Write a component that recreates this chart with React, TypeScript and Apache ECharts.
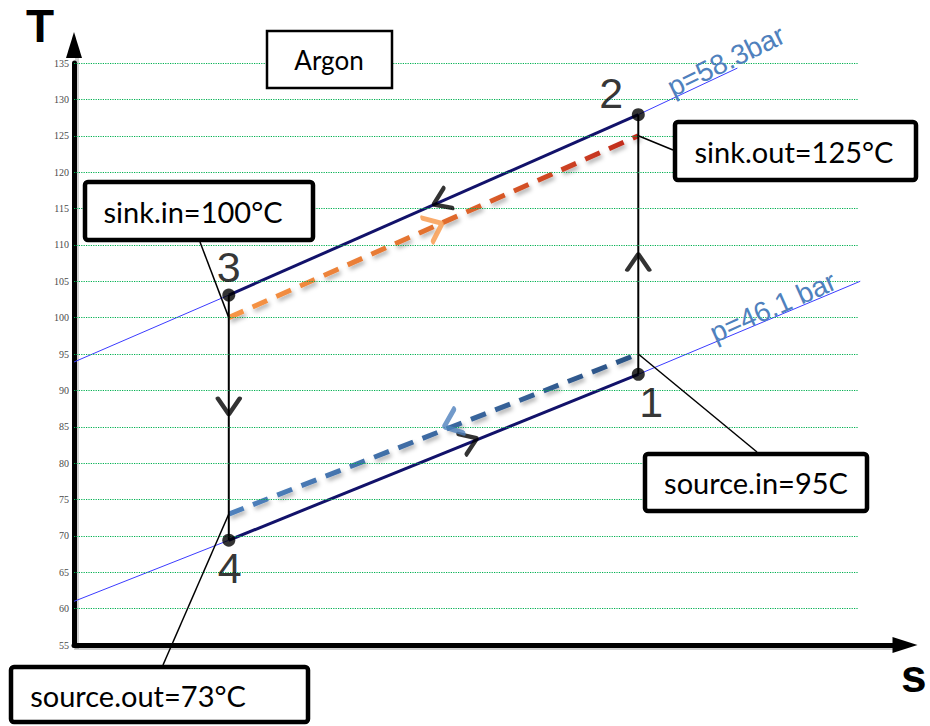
import React, { useEffect, useRef } from "react";
import * as echarts from "echarts";

// ---- axes ----
const T_AXIS_MIN = 55;
const T_AXIS_MAX = 135;
const T_AXIS_STEP = 5;
const S_AXIS_MIN = 0;
const S_AXIS_MAX = 100;
const gridTemps = [60, 65, 70, 75, 80, 85, 90, 95, 100, 105, 110, 115, 120, 125, 130, 135];
const gridEndS = 95.7;

// ---- cycle states (entropy in arbitrary units, T in °C) ----
const stateLabels = ["1", "2", "3", "4"];
const stateS = [68.9, 68.9, 18.9, 18.9];
const stateT = [92.2, 127.9, 103.1, 69.4];
const stateLabelOffsets = [[13, 28], [-27, -22], [0, -28], [1, 28]];

// process segments by state index
const diagonalSegments = [[3, 0], [1, 2]];
const verticalSegments = [[0, 1], [2, 3]];

// ---- isobars ----
const isobarHighS = [0, 18.9, 68.9, 81.0];
const isobarHighT = [93.9, 103.1, 127.9, 134.3];
const isobarLowS = [0, 18.9, 68.9, 96.0];
const isobarLowT = [61.0, 69.4, 92.2, 105.0];

// ---- heat-exchange streams ----
const sinkS = [18.9, 68.9];
const sinkT = [100, 125];
const sourceS = [18.9, 68.9];
const sourceT = [73, 95];

// ---- direction arrows ----
const arrowS = [68.9, 18.9, 44.8, 48.3, 44.05, 46.1];
const arrowT = [107.65, 87.8, 116.0, 83.0, 112.5, 85.4];
const arrowDir = [90, -90, 203.75, 22, 24, 201.4];
const arrowKind = ["cycle", "cycle", "cycle", "cycle", "sink", "source"];

// ---- callouts ----
const calloutTexts = ["sink.in=100°C", "sink.out=125°C", "source.in=95C", "source.out=73°C"];
const calloutS = [18.9, 68.9, 68.9, 18.9];
const calloutT = [100, 125, 95, 73];
const calloutLayout = [
  { x: 83, y: 180, w: 232, h: 62, tx: 193, ty: 211, ax: 200, ay: 242 },
  { x: 673, y: 120, w: 245, h: 62, tx: 794, ty: 151, ax: 673, ay: 150 },
  { x: 643, y: 452, w: 226, h: 61, tx: 756, ty: 482, ax: 757, ay: 452 },
  { x: 9, y: 665, w: 301, h: 59, tx: 138, ty: 695, ax: 163, ay: 665 },
];

const FONT_BOX = "Lato";
const FONT_SANS = "'Liberation Sans', Arial, sans-serif";

export default function App() {
  const ref = useRef<HTMLDivElement>(null);

  useEffect(() => {
    const el = ref.current!;
    const chart = echarts.init(el, null, { renderer: "svg" });

    const pair = (s: number[], t: number[]) => s.map((v, i) => [v, t[i]]);

    const series: any[] = [];

    // grid lines (green dotted), stop before the s-axis arrow
    series.push({
      type: "line",
      z: 1,
      data: [[S_AXIS_MIN, T_AXIS_MIN]],
      showSymbol: false,
      symbol: "none",
      lineStyle: { opacity: 0 },
      silent: true,
      markLine: {
        silent: true,
        precision: 4,
        symbol: ["none", "none"],
        label: { show: false },
        lineStyle: { color: "#00B050", type: "dotted", width: 1.2, opacity: 1 },
        data: gridTemps.map((t) => [{ coord: [S_AXIS_MIN, t] }, { coord: [gridEndS, t] }]),
      },
    });

    // isobars
    [pair(isobarHighS, isobarHighT), pair(isobarLowS, isobarLowT)].forEach((d) =>
      series.push({
        type: "line",
        z: 2,
        data: d,
        symbol: "none",
        silent: true,
        lineStyle: { color: "#3B3BFF", width: 1 },
      })
    );

    // heat exchanger streams (dashed)
    series.push({
      type: "line",
      z: 3,
      data: pair(sinkS, sinkT),
      symbol: "none",
      silent: true,
      lineStyle: {
        width: 5,
        type: [16, 10],
        cap: "butt",
        color: new echarts.graphic.LinearGradient(0, 0, 1, 0, [
          { offset: 0, color: "#F79646" },
          { offset: 0.5, color: "#E2702E" },
          { offset: 1, color: "#C0281C" },
        ]),
        shadowColor: "rgba(0,0,0,0.3)",
        shadowBlur: 4,
        shadowOffsetX: 2,
        shadowOffsetY: 3,
      },
    });
    series.push({
      type: "line",
      z: 3,
      data: pair(sourceS, sourceT),
      symbol: "none",
      silent: true,
      lineStyle: {
        width: 5,
        type: [16, 10],
        cap: "butt",
        color: new echarts.graphic.LinearGradient(0, 0, 1, 0, [
          { offset: 0, color: "#4F81BD" },
          { offset: 1, color: "#2A5285" },
        ]),
        shadowColor: "rgba(0,0,0,0.3)",
        shadowBlur: 4,
        shadowOffsetX: 2,
        shadowOffsetY: 3,
      },
    });

    // cycle: diagonal processes (navy) and vertical processes (black)
    diagonalSegments.forEach(([a, b]) =>
      series.push({
        type: "line",
        z: 4,
        data: [
          [stateS[a], stateT[a]],
          [stateS[b], stateT[b]],
        ],
        symbol: "none",
        silent: true,
        lineStyle: { color: "#12126A", width: 3 },
      })
    );
    verticalSegments.forEach(([a, b]) =>
      series.push({
        type: "line",
        z: 4,
        data: [
          [stateS[a], stateT[a]],
          [stateS[b], stateT[b]],
        ],
        symbol: "none",
        silent: true,
        lineStyle: { color: "#000", width: 2 },
      })
    );

    // direction arrows (open chevrons)
    const arrowStyle: Record<string, any> = {
      cycle: { color: "#000", width: 4, size: [16, 22] },
      sink: { color: "#F79646", width: 4.5, size: [16, 26] },
      source: { color: "#4F81BD", width: 4.5, size: [16, 26] },
    };
    series.push({
      type: "scatter",
      z: 5,
      silent: true,
      symbol: "path://M0,0L10,10L0,20",
      data: arrowS.map((s, i) => {
        const st = arrowStyle[arrowKind[i]];
        return {
          value: [s, arrowT[i]],
          symbolRotate: arrowDir[i],
          symbolSize: st.size,
          itemStyle: {
            color: "rgba(0,0,0,0)",
            borderColor: st.color,
            borderWidth: st.width,
            borderCap: "round",
            borderJoin: "round",
          },
        };
      }),
    });

    // state points
    series.push({
      type: "scatter",
      z: 6,
      silent: true,
      symbol: "circle",
      symbolSize: 13,
      itemStyle: { color: "#000" },
      data: stateS.map((s, i) => ({
        value: [s, stateT[i]],
        name: stateLabels[i],
        label: {
          show: true,
          position: "inside",
          offset: stateLabelOffsets[i],
          formatter: stateLabels[i],
          fontFamily: FONT_SANS,
          fontSize: 43,
          color: "#000",
          textBorderWidth: 0,
        },
      })),
    });

    const option: any = {
      animation: false,
      backgroundColor: "#fff",
      grid: { left: 74, right: 37, top: 63, bottom: 81, containLabel: false },
      xAxis: {
        type: "value",
        min: S_AXIS_MIN,
        max: S_AXIS_MAX,
        axisLine: {
          show: true,
          onZero: false,
          symbol: ["none", "triangle"],
          symbolSize: [16, 25],
          symbolOffset: [0, 12],
          lineStyle: { color: "#000", width: 5 },
        },
        axisTick: { show: false },
        axisLabel: { show: false },
        splitLine: { show: false },
      },
      yAxis: {
        type: "value",
        min: T_AXIS_MIN,
        max: T_AXIS_MAX,
        interval: T_AXIS_STEP,
        axisLine: {
          show: true,
          onZero: false,
          symbol: ["none", "triangle"],
          symbolSize: [16, 26],
          symbolOffset: [0, 18],
          lineStyle: { color: "#000", width: 5 },
        },
        axisTick: { show: false },
        axisLabel: {
          fontFamily: "'Liberation Serif', 'Times New Roman', serif",
          fontSize: 10,
          color: "#4A4A4A",
          margin: 5,
        },
        splitLine: { show: false },
      },
      series,
    };

    chart.setOption(option);

    // overlay annotations (callouts, isobar names, axis letters)
    const graphics: any[] = [];

    // soft shadow strips for the axes (drawn under the axis lines)
    const origin = chart.convertToPixel({ gridIndex: 0 }, [S_AXIS_MIN, T_AXIS_MIN]) as number[];
    const topY = chart.convertToPixel({ gridIndex: 0 }, [S_AXIS_MIN, T_AXIS_MAX]) as number[];
    const endX = chart.convertToPixel({ gridIndex: 0 }, [S_AXIS_MAX, T_AXIS_MIN]) as number[];
    graphics.push({
      type: "rect",
      z: -1,
      silent: true,
      shape: { x: origin[0] + 1, y: topY[1] - 8, width: 4, height: origin[1] - topY[1] + 12 },
      style: { fill: "rgba(0,0,0,0.18)" },
    });
    graphics.push({
      type: "rect",
      z: -1,
      silent: true,
      shape: { x: origin[0], y: origin[1] + 1, width: endX[0] - origin[0] + 4, height: 4 },
      style: { fill: "rgba(0,0,0,0.18)" },
    });

    calloutTexts.forEach((txt, i) => {
      const L = calloutLayout[i];
      const p = chart.convertToPixel({ gridIndex: 0 }, [calloutS[i], calloutT[i]]) as number[];
      graphics.push({
        type: "line",
        z: 20,
        silent: true,
        shape: { x1: p[0], y1: p[1], x2: L.ax, y2: L.ay },
        style: { stroke: "#000", lineWidth: 1.5 },
      });
      graphics.push({
        type: "rect",
        z: 21,
        silent: true,
        shape: { x: L.x + 2, y: L.y + 2, width: L.w - 4, height: L.h - 4, r: 3 },
        style: { fill: "#fff", stroke: "#000", lineWidth: 4.5 },
      });
      graphics.push({
        type: "text",
        z: 22,
        silent: true,
        x: L.tx,
        y: L.ty,
        style: {
          text: txt,
          font: `29px ${FONT_BOX}`,
          fill: "#000",
          align: "center",
          verticalAlign: "middle",
          textAlign: "center",
          textVerticalAlign: "middle",
        },
      });
    });

    // Argon title box
    graphics.push({
      type: "rect",
      z: 21,
      silent: true,
      shape: { x: 267, y: 31, width: 125, height: 57 },
      style: { fill: "#fff", stroke: "#000", lineWidth: 2.5 },
    });
    graphics.push({
      type: "text",
      z: 22,
      silent: true,
      x: 329,
      y: 60,
      style: {
        text: "Argon",
        font: `26px ${FONT_BOX}`,
        fill: "#000",
        align: "center",
        verticalAlign: "middle",
        textAlign: "center",
        textVerticalAlign: "middle",
      },
    });

    // isobar names
    const isobarNames = [
      { text: "p=58.3bar", x: 726, y: 61, rot: 26 },
      { text: "p=46.1 bar", x: 773, y: 307, rot: 24 },
    ];
    isobarNames.forEach((n) =>
      graphics.push({
        type: "text",
        z: 22,
        silent: true,
        x: n.x,
        y: n.y,
        rotation: (n.rot * Math.PI) / 180,
        style: {
          text: n.text,
          font: `28px ${FONT_SANS}`,
          fill: "#4F81BD",
          align: "center",
          verticalAlign: "middle",
          textAlign: "center",
          textVerticalAlign: "middle",
        },
      })
    );

    // axis letters
    graphics.push({
      type: "text",
      z: 22,
      silent: true,
      x: 40,
      y: 26,
      style: {
        text: "T",
        font: `bold 46px ${FONT_SANS}`,
        fill: "#000",
        align: "center",
        verticalAlign: "middle",
        textAlign: "center",
        textVerticalAlign: "middle",
      },
    });
    graphics.push({
      type: "text",
      z: 22,
      silent: true,
      x: 901,
      y: 676,
      style: {
        text: "s",
        font: `bold 46px ${FONT_SANS}`,
        fill: "#000",
        align: "left",
        verticalAlign: "middle",
        textAlign: "left",
        textVerticalAlign: "middle",
      },
    });

    chart.setOption({ graphic: { elements: graphics } });

    return () => chart.dispose();
  }, []);

  return (
    <div
      ref={ref}
      style={{ width: 930, height: 726, position: "absolute", left: 0, top: 0, background: "#fff" }}
    />
  );
}
